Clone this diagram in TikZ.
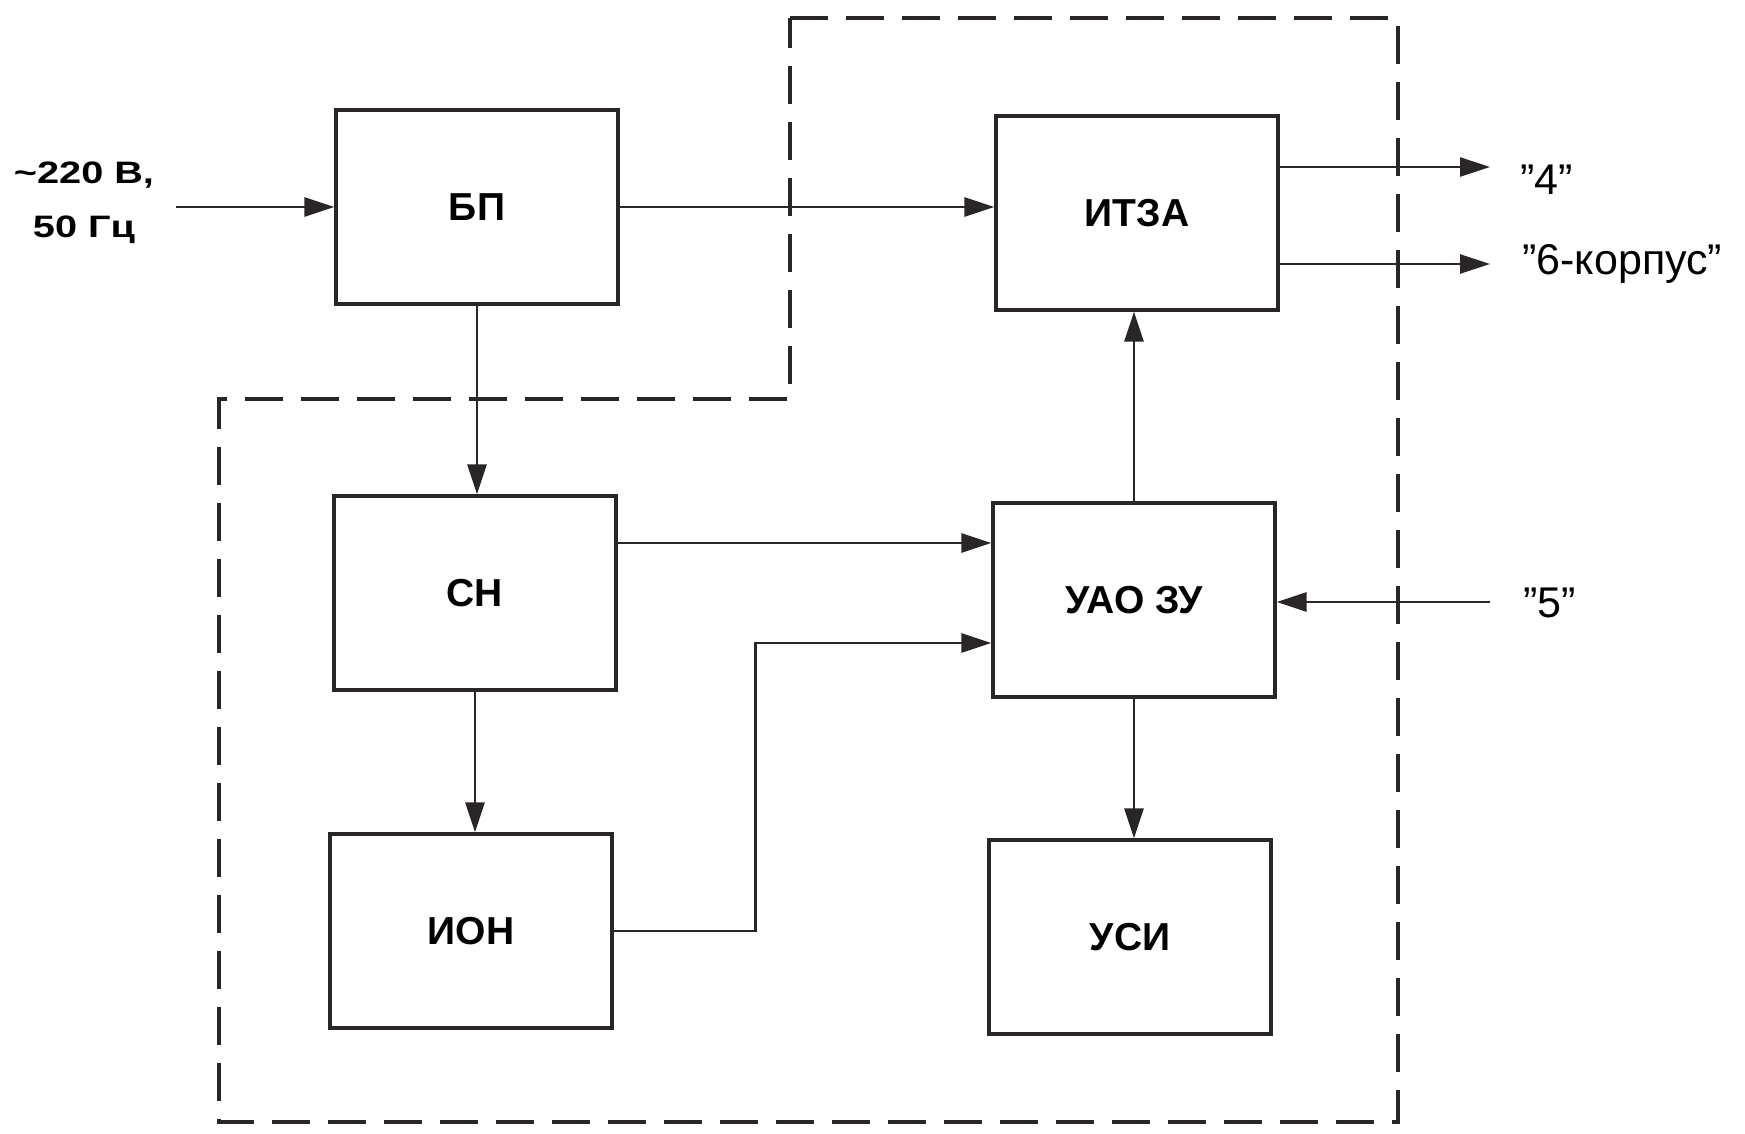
\documentclass[tikz,border=0pt]{standalone}
\usepackage{fontspec}
\setmainfont{Liberation Sans}
\usepackage{graphicx}
\usetikzlibrary{arrows.meta}
\definecolor{encre}{HTML}{2A2627}
\newcommand{\bloc}[3]{\node[bloc] (#1) at (#2) {#3}}
\newcommand{\sortie}[3]{\node[anchor=west,inner sep=0pt,
	font=\fontsize{21.5}{25}\selectfont] (#1) at (#2) {#3}}
\newcommand{\fleche}[2]{\draw[fil] (#1) -- (#2)}
\newcommand{\etire}[1]{\scalebox{1.28}[1]{#1}}

\begin{document}
\begin{tikzpicture}[x=0.5pt,y=-0.5pt,
	bloc/.style={draw=encre,line width=1.6pt,minimum width=141pt,minimum height=97pt,
		font=\fontsize{19.5}{23}\selectfont\bfseries},
	fil/.style={encre,line width=1.35pt,-{Triangle[length=15pt,width=9.5pt]}}]
	\useasboundingbox (0,0) rectangle (1745,1134);
	\draw[encre,line width=2.1pt,dash pattern=on 19pt off 9pt]
		(790,18) -- (1398,18) -- (1398,1122) -- (219,1122) -- (219,399) -- (790,399) -- cycle;
	\bloc{bp}{477,207}{БП};
	\bloc{itza}{1137,213}{ИТЗА};
	\bloc{sn}{475,593}{СН};
	\bloc{uao}{1134,600}{УАО ЗУ};
	\bloc{ion}{471,931}{ИОН};
	\bloc{usi}{1130,937}{УСИ};
	\node[align=center,inner sep=0pt,font=\fontsize{15.5}{27}\selectfont\bfseries]
		(reseau) at (84,203) {\etire{\textasciitilde220 В,}\\\etire{50 Гц}};
	\coordinate (entree) at (176,207);
	\coordinate (f4) at (1490,167);
	\coordinate (f6) at (1490,264);
	\coordinate (f5) at (1490,602);
	\sortie{q4}{1520,180}{”4”};
	\sortie{q6}{1522,264}{”6-корпус”};
	\sortie{q5}{1523,603}{”5”};
	\fleche{entree}{bp.west};
	\fleche{bp.east}{bp.east -| itza.west};
	\fleche{bp.south}{bp.south |- sn.north};
	\fleche{sn.south}{sn.south |- ion.north};
	\fleche{[yshift=25pt]sn.east}{[yshift=25pt]sn.east -| uao.west};
	\draw[fil] (ion.east) -| ([xshift=-118pt,yshift=-21.5pt]uao.west) -- ([yshift=-21.5pt]uao.west);
	\fleche{uao.north}{uao.north |- itza.south};
	\fleche{uao.south}{uao.south |- usi.north};
	\fleche{itza.east |- f4}{f4};
	\fleche{itza.east |- f6}{f6};
	\fleche{f5}{f5 -| uao.east};
\end{tikzpicture}
\end{document}
